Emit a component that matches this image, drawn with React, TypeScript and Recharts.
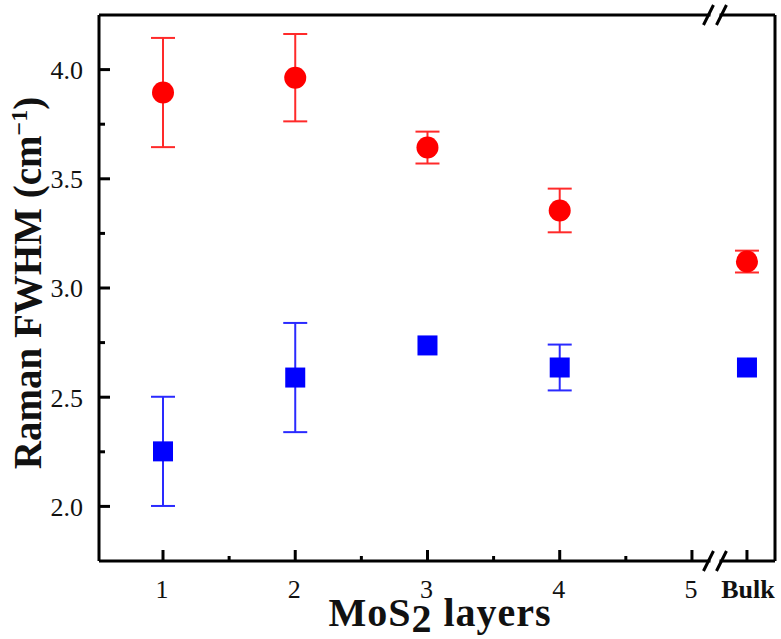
import React from 'react';
import { ScatterChart, Scatter, XAxis, YAxis, ErrorBar, ReferenceLine, ReferenceDot } from 'recharts';

// layer positions on the x axis (Bulk sits after the axis break)
const LAYER_X = [1, 2, 3, 4, 5.416];
const X_TICKS = [1, 1.5, 2, 2.5, 3, 3.5, 4, 4.5, 5, 5.416];
const X_TICK_LABELS: Record<string, string> = { '1': '1', '2': '2', '3': '3', '4': '4', '5': '5', '5.416': 'Bulk' };
const Y_TICKS = [2.0, 2.25, 2.5, 2.75, 3.0, 3.25, 3.5, 3.75, 4.0];
const Y_MAJOR = [2.0, 2.5, 3.0, 3.5, 4.0];

// red circles
const A_FWHM = [3.895, 3.963, 3.643, 3.355, 3.121];
const A_ERR = [0.25, 0.2, 0.073, 0.1, 0.05];
// blue squares
const E_FWHM = [2.252, 2.59, 2.737, 2.636, 2.636];
const E_ERR = [0.25, 0.25, 0, 0.105, 0];

const X_MIN = 0.516;
const X_MAX = 5.628;
const Y_MIN = 1.75;
const Y_MAX = 4.25;
const BREAK_X = 5.178;

const FONT = '"Liberation Serif", "Times New Roman", serif';

const aData = LAYER_X.map((x, i) => ({ x, y: A_FWHM[i], err: A_ERR[i] }));
const eData = LAYER_X.map((x, i) => ({ x, y: E_FWHM[i], err: E_ERR[i] }));

const YTick = (props: any) => {
  const { x, y, payload } = props;
  const v = payload.value;
  const major = Y_MAJOR.some(m => Math.abs(m - v) < 1e-6);
  const ax = x + 16;
  return (
    <g>
      <line x1={ax} x2={ax + (major ? 11 : 6)} y1={y} y2={y} stroke="#000" strokeWidth={3} />
      {major && (
        <text x={x} y={y} dy="0.36em" textAnchor="end" fontFamily={FONT} fontSize={26} fill="#111">
          {v.toFixed(1)}
        </text>
      )}
    </g>
  );
};

const XTick = (props: any) => {
  const { x, y, payload } = props;
  const label = X_TICK_LABELS[String(payload.value)];
  const major = label !== undefined;
  const bulk = label === 'Bulk';
  return (
    <g>
      <line x1={x} x2={x} y1={y} y2={y - (major ? 11 : 5)} stroke="#000" strokeWidth={3} />
      {major && (
        <text x={bulk ? x + 1 : x - 1} y={y + 37} textAnchor="middle" fontFamily={FONT} fontSize={26}
          fontWeight={bulk ? 700 : 400} fill="#111">
          {label}
        </text>
      )}
    </g>
  );
};

const YTitle = () => {
  const cx = 27;
  const cy = 283;
  return (
    <text x={cx} y={cy} transform={`rotate(-90, ${cx}, ${cy})`} textAnchor="middle" dy="0.35em"
      fontFamily={FONT} fontSize={39} fontWeight={700} fill="#111">
      Raman FWHM (cm<tspan dy={-14} fontSize={24}>−1</tspan><tspan dy={14}>)</tspan>
    </text>
  );
};

const XTitle = () => {
  const cx = 440;
  const by = 626;
  return (
    <text x={cx} y={by} textAnchor="middle" fontFamily={FONT} fontSize={40} fontWeight={700}
      fill="#111" letterSpacing={1}>
      MoS<tspan dy={6}>2</tspan><tspan dy={-6}> layers</tspan>
    </text>
  );
};

const BreakMark = (props: any) => {
  const { cx, cy } = props;
  if (cx == null || cy == null) return null;
  return (
    <g>
      <rect x={cx - 5} y={cy - 4} width={9} height={8} fill="#fff" />
      <line x1={cx - 12} y1={cy + 10} x2={cx - 2} y2={cy - 10} stroke="#000" strokeWidth={3} />
      <line x1={cx + 1} y1={cy + 10} x2={cx + 11} y2={cy - 10} stroke="#000" strokeWidth={3} />
    </g>
  );
};

const RedDot = (props: any) => <circle cx={props.cx} cy={props.cy} r={11} fill="#ff0000" />;
const BlueSquare = (props: any) => (
  <rect x={props.cx - 10} y={props.cy - 10} width={20} height={20} fill="#0000ff" />
);

export default function App() {
  return (
    <div style={{ position: 'absolute', left: 0, top: 0, background: '#fff' }}>
      <ScatterChart width={781} height={639} margin={{ top: 15, right: 6, bottom: 0, left: 0 }}>
        <XAxis
          type="number"
          dataKey="x"
          domain={[X_MIN, X_MAX]}
          ticks={X_TICKS}
          interval={0}
          allowDataOverflow
          height={78}
          tickSize={0}
          tickMargin={0}
          tickLine={false}
          axisLine={{ stroke: '#000', strokeWidth: 3 }}
          tick={<XTick />}
          label={{ content: XTitle }}
        />
        <YAxis
          type="number"
          dataKey="y"
          domain={[Y_MIN, Y_MAX]}
          ticks={Y_TICKS}
          interval={0}
          allowDataOverflow
          width={99}
          tickSize={0}
          tickMargin={16}
          tickLine={false}
          axisLine={{ stroke: '#000', strokeWidth: 3 }}
          tick={<YTick />}
          label={{ content: YTitle }}
        />
        <ReferenceLine y={Y_MAX} stroke="#000" strokeWidth={3} />
        <ReferenceLine x={X_MAX} stroke="#000" strokeWidth={3} />
        <Scatter data={aData} shape={<RedDot />} isAnimationActive={false}>
          <ErrorBar dataKey="err" direction="y" width={12} stroke="#ff2a2a" strokeWidth={2} />
        </Scatter>
        <Scatter data={eData} shape={<BlueSquare />} isAnimationActive={false}>
          <ErrorBar dataKey="err" direction="y" width={12} stroke="#2a2aff" strokeWidth={2} />
        </Scatter>
        <ReferenceDot x={BREAK_X} y={Y_MIN} r={0} shape={<BreakMark />} ifOverflow="visible" />
        <ReferenceDot x={BREAK_X} y={Y_MAX} r={0} shape={<BreakMark />} ifOverflow="visible" />
      </ScatterChart>
    </div>
  );
}
